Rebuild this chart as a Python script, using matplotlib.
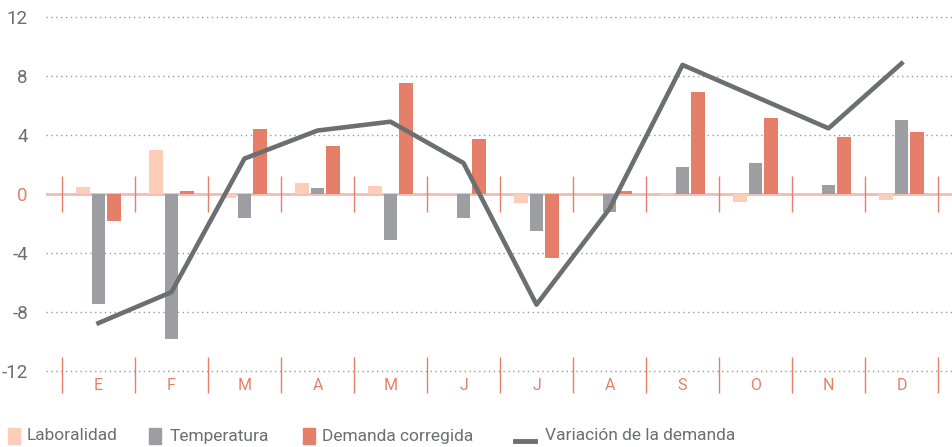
import matplotlib

matplotlib.use("Agg")
import matplotlib.pyplot as plt  # noqa: E402
from matplotlib.patches import Rectangle  # noqa: E402
from matplotlib.lines import Line2D  # noqa: E402

MONTHS = ["E", "F", "M", "A", "M", "J", "J", "A", "S", "O", "N", "D"]
laboralidad = [0.5, 3.0, -0.3, 0.75, 0.55, 0.1, -0.6, 0.0, -0.1, -0.55, 0.0, -0.4]
temperatura = [-7.45, -9.85, -1.6, 0.4, -3.1, -1.6, -2.5, -1.2, 1.8, 2.1, 0.6, 5.0]
demanda_corr = [-1.85, 0.2, 4.4, 3.25, 7.5, 3.7, -4.35, 0.2, 6.9, 5.15, 3.85, 4.2]
variacion = [-8.75, -6.65, 2.4, 4.3, 4.9, 2.1, -7.5, -1.0, 8.75, 6.6, 4.45, 8.85]
YTICKS = [12, 8, 4, 0, -4, -8, -12]
SERIES = ["Laboralidad", "Temperatura", "Demanda corregida", "Variación de la demanda"]

LAB = "#fdcdb9"
TEMP = "#9d9ea2"
DEM = "#e67f6a"
LINE = "#6d6e70"
ZERO = "#f4bbb0"
TXT = "#6d6e70"

plt.rcParams["font.family"] = ["Roboto", "DejaVu Sans"]

W, H = 953, 447
fig = plt.figure(figsize=(W / 100, H / 100), dpi=100)
ax = fig.add_axes([46 / W, 0.105, 1 - 46 / W, 0.895])

x = list(range(len(MONTHS)))
w = 0.19
ax.bar([i - 0.21 for i in x], laboralidad, w, color=LAB, zorder=3)
ax.bar(x, temperatura, w, color=TEMP, zorder=3)
ax.bar([i + 0.21 for i in x], demanda_corr, w, color=DEM, zorder=3)
ax.plot(x, variacion, color=LINE, lw=3.3, zorder=4)

for y in YTICKS:
    if y == 0:
        ax.axhline(0, color=ZERO, lw=2, zorder=2)
    else:
        ax.axhline(y, color="#9a9a9a", lw=1, ls=(0, (1, 2.5)), zorder=1)

bounds = [i - 0.5 for i in range(len(MONTHS) + 1)]
ax.vlines(bounds, -1.2, 1.2, color=DEM, lw=1, zorder=2)
ax.vlines(bounds, -11.05, -13.5, color=DEM, lw=1, zorder=2)
for i, m in enumerate(MONTHS):
    ax.text(i, -12.95, m, ha="center", va="center", fontsize=11.5, color=DEM)

ax.set_xlim(-0.719, 11.705)
ax.set_ylim(-13.97, 13.15)
ax.set_xticks([])
ax.set_yticks(YTICKS)
ax.set_yticklabels([str(v) for v in YTICKS])
ax.tick_params(axis="y", length=0, pad=13, labelsize=13.5, labelcolor=TXT)
for lbl in ax.get_yticklabels():
    if lbl.get_text() == "0":
        lbl.set_color(DEM)
for s in ax.spines.values():
    s.set_visible(False)

# legend drawn by hand along the bottom edge
ly = 1 - 436 / H
for color, label, px, tx in zip([LAB, TEMP, DEM], SERIES[:3], [8, 149, 303], [27, 170, 322]):
    fig.add_artist(Rectangle((px / W, 1 - 444 / H), 12 / W, 16 / H, color=color,
                             transform=fig.transFigure))
    fig.text(tx / W, ly, label, fontsize=12.5, color=TXT, va="center", ha="left")
fig.add_artist(Line2D([515 / W, 535 / W], [1 - 441 / H] * 2, color=LINE, lw=3.5,
                      transform=fig.transFigure))
fig.text(545 / W, ly, SERIES[3], fontsize=12.5, color=TXT, va="center", ha="left")

fig.savefig("out.png", dpi=100, facecolor="white")
